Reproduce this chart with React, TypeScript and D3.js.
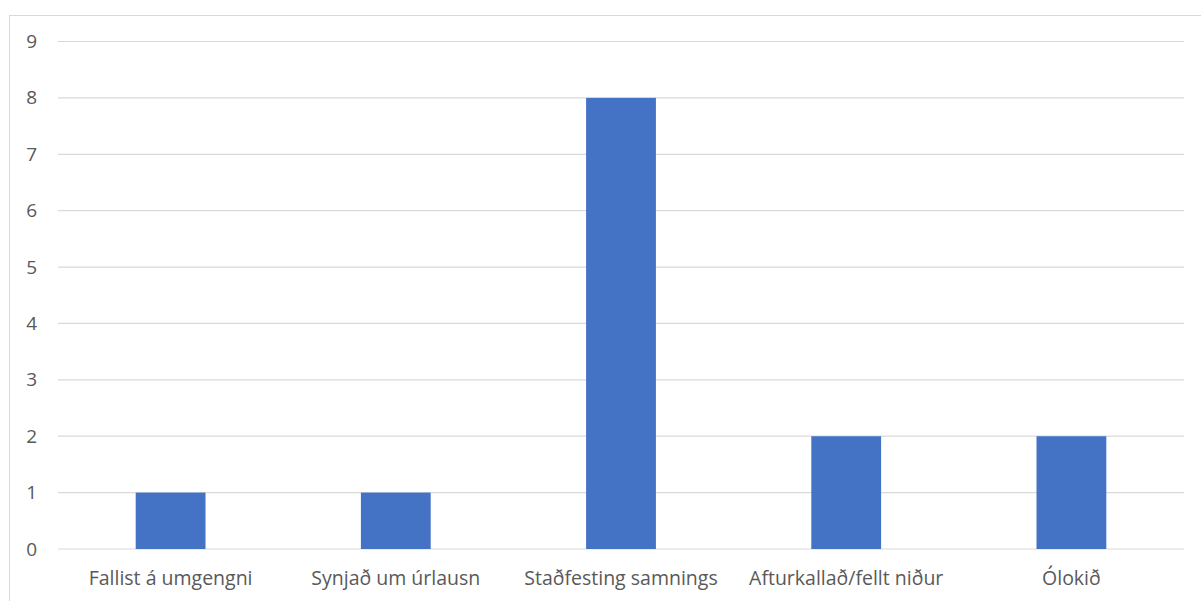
import React from "react";
import * as d3 from "d3";

const categories = [
  "Fallist á umgengni",
  "Synjað um úrlausn",
  "Staðfesting samnings",
  "Afturkallað/fellt niður",
  "Ólokið",
];
const values = [1, 1, 8, 2, 2];
const yTicks = [0, 1, 2, 3, 4, 5, 6, 7, 8, 9];

const W = 1201;
const H = 601;
const left = 58;
const right = 1184;
const top = 41.5;
const bottom = 549;

export default function App() {
  const x = d3.scaleBand<string>().domain(categories).range([left, right]).paddingInner(0.69).paddingOuter(0.345);
  const y = d3.scaleLinear().domain([0, 9]).range([bottom, top]);
  const font = "Open Sans, sans-serif";
  return (
    <svg
      width={W}
      height={H}
      style={{ position: "absolute", left: 0, top: 0, background: "#fff" }}
    >
      <rect x={9.5} y={15.5} width={W + 10} height={H + 10} fill="#fff" stroke="#d9d9d9" strokeWidth={1} />
      {yTicks.map((t) => (
        <g key={t}>
          <line x1={left} x2={right} y1={y(t)} y2={y(t)} stroke="#d9d9d9" strokeWidth={1.2} />
          <text
            x={37}
            y={y(t) + 6.5}
            textAnchor="end"
            fontFamily={font}
            fontSize={19}
            fill="#595959"
          >
            {t}
          </text>
        </g>
      ))}
      {categories.map((c, i) => (
        <g key={c}>
          <rect
            x={x(c)!}
            y={y(values[i])}
            width={x.bandwidth()}
            height={y(0) - y(values[i])}
            fill="#4472c4"
          />
          <text
            x={x(c)! + x.bandwidth() / 2}
            y={585}
            textAnchor="middle"
            fontFamily={font}
            fontSize={19.5}
            fill="#595959"
          >
            {c}
          </text>
        </g>
      ))}
    </svg>
  );
}
